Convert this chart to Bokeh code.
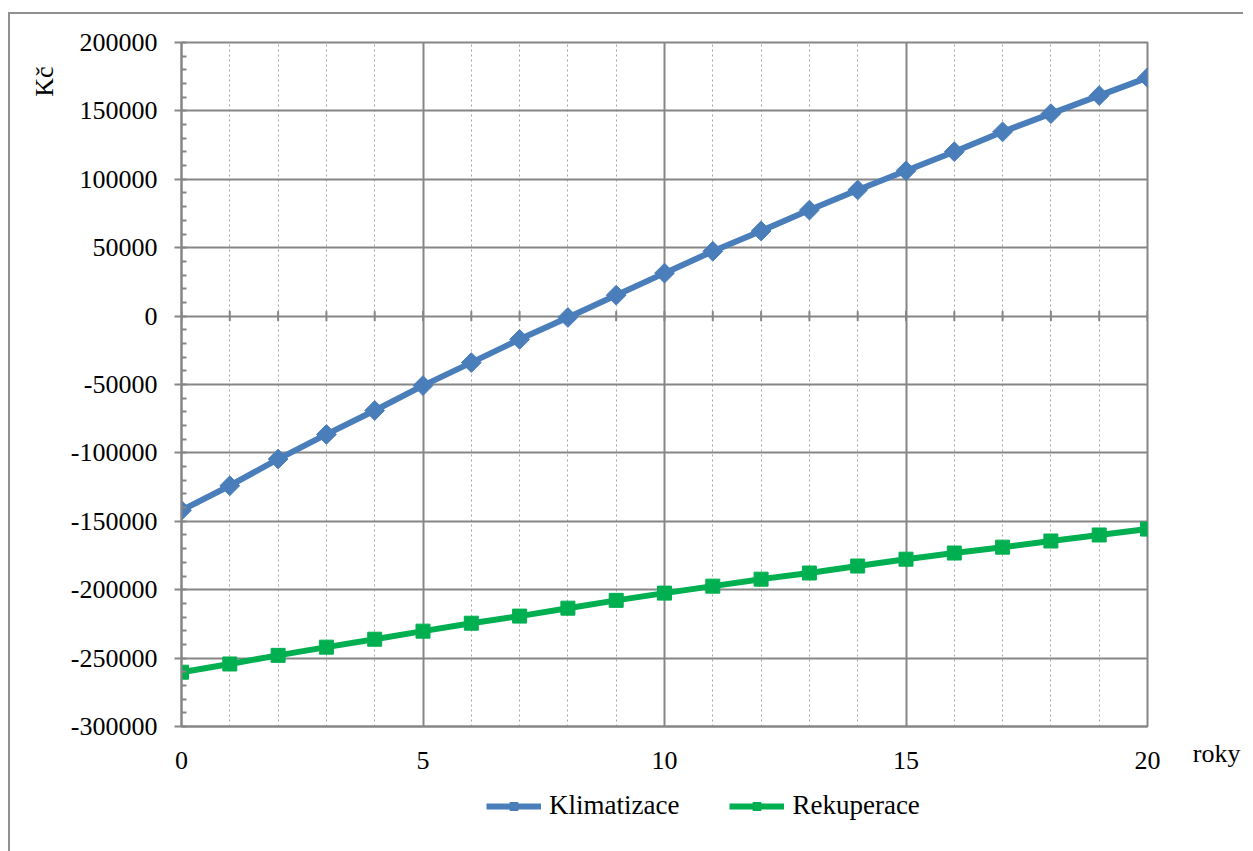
import math
from bokeh.plotting import figure
from bokeh.layouts import column
from bokeh.models import (Range1d, SingleIntervalTicker, FixedTicker, NumeralTickFormatter,
                          Legend, LegendItem, Title, ColumnDataSource)
from bokeh.embed import file_html
from bokeh.resources import INLINE

years = list(range(0, 21))
klimatizace = [-142000, -124000, -104500, -86500, -69000, -50800, -34000, -17000, -1000,
               15300, 31400, 47400, 62200, 77500, 92200, 106200, 120200, 134700, 148000,
               161200, 174300]
rekuperace = [-260300, -254300, -248000, -242000, -236200, -230300, -224500, -219300,
              -213500, -207800, -202500, -197400, -192300, -187800, -182700, -177700,
              -173200, -168900, -164400, -160000, -155700]
x_ticks = [0, 5, 10, 15, 20]
series_names = ["Klimatizace", "Rekuperace"]

FONT = "Liberation Serif"
FS = "26px"
GRID = "#868686"
EDGE = "2px solid #909090"
BLUE = "#4A7EBB"
GREEN = "#00B050"

src = ColumnDataSource(dict(x=years, k=klimatizace, r=rekuperace, z=[0] * len(years)))

# ---------------- main chart ----------------
p = figure(frame_width=964, frame_height=682, output_backend="svg", toolbar_location=None,
           x_range=Range1d(0, 20), y_range=Range1d(-300000, 200000))
p.min_border_left = 171
p.min_border_top = 28
p.min_border_right = 98
p.min_border_bottom = 62
p.styles = {"margin-left": "8px", "margin-top": "12px", "border-top": EDGE, "border-left": EDGE}
p.outline_line_color = GRID
p.outline_line_width = 2
p.background_fill_color = "white"
p.border_fill_color = "white"

p.xaxis.ticker = FixedTicker(ticks=x_ticks)
p.xaxis.major_tick_line_color = None
p.xaxis.minor_tick_line_color = None
p.xaxis.axis_line_color = GRID
p.xaxis.axis_line_width = 2
p.xaxis.major_label_text_font = FONT
p.xaxis.major_label_text_font_size = FS
p.xaxis.major_label_text_color = "black"
p.xaxis.major_label_standoff = 19

p.yaxis.ticker = SingleIntervalTicker(interval=50000, num_minor_ticks=5)
p.yaxis.formatter = NumeralTickFormatter(format="0")
p.yaxis.axis_line_color = GRID
p.yaxis.axis_line_width = 2
p.yaxis.major_tick_line_color = GRID
p.yaxis.major_tick_line_width = 2
p.yaxis.major_tick_out = 7
p.yaxis.major_tick_in = 0
p.yaxis.minor_tick_line_color = GRID
p.yaxis.minor_tick_line_width = 2
p.yaxis.minor_tick_in = 5
p.yaxis.minor_tick_out = 0
p.yaxis.major_label_text_font = FONT
p.yaxis.major_label_text_font_size = FS
p.yaxis.major_label_text_color = "black"
p.yaxis.major_label_standoff = 17

p.xgrid.ticker = SingleIntervalTicker(interval=5, num_minor_ticks=5)
p.xgrid.grid_line_color = GRID
p.xgrid.grid_line_width = 2
p.xgrid.minor_grid_line_color = "#a6a6a6"
p.xgrid.minor_grid_line_width = 1
p.xgrid.minor_grid_line_dash = "2 3"
p.ygrid.ticker = SingleIntervalTicker(interval=50000)
p.ygrid.grid_line_color = GRID
p.ygrid.grid_line_width = 2

# category-axis tick marks along the zero line
p.scatter("x", "z", source=src, marker="dash", angle=math.pi / 2, size=10,
          line_color=GRID, line_width=2)

p.line("x", "k", source=src, line_color=BLUE, line_width=6)
p.scatter("x", "k", source=src, marker="square", angle=math.pi / 4, size=14,
          fill_color=BLUE, line_color=BLUE)
p.line("x", "r", source=src, line_color=GREEN, line_width=6)
p.scatter("x", "r", source=src, marker="square", size=14,
          fill_color=GREEN, line_color=GREEN)

p.add_layout(Title(text="roky", align="right", vertical_align="top", offset=-93, standoff=-65,
                   text_font=FONT, text_font_size=FS, text_font_style="normal",
                   text_color="black"), "below")
p.add_layout(Title(text="Kč", align="right", offset=24, standoff=18,
                   text_font=FONT, text_font_size=FS, text_font_style="normal",
                   text_color="black"), "left")

# ---------------- legend strip ----------------
q = figure(width=1233, height=66, output_backend="svg", toolbar_location=None,
           x_range=Range1d(0, 1), y_range=Range1d(0, 1),
           x_axis_location=None, y_axis_location=None)
q.min_border_left = 171
q.min_border_right = 98
q.min_border_top = 0
q.min_border_bottom = 0
q.styles = {"margin-left": "8px", "border-left": EDGE}
q.grid.visible = False
q.outline_line_color = None
q.background_fill_alpha = 0
q.border_fill_alpha = 0

ql1 = q.line("x", "k", source=src, line_color=BLUE, line_width=6)
qp1 = q.scatter("x", "k", source=src, marker="square", angle=math.pi / 4, size=14,
                fill_color=BLUE, line_color=BLUE)
ql2 = q.line("x", "r", source=src, line_color=GREEN, line_width=6)
qp2 = q.scatter("x", "r", source=src, marker="square", size=14,
                fill_color=GREEN, line_color=GREEN)

legend = Legend(items=[LegendItem(label=series_names[0], renderers=[ql1, qp1]),
                       LegendItem(label=series_names[1], renderers=[ql2, qp2])],
                orientation="horizontal", location=(305, 31),
                label_text_font=FONT, label_text_font_size="27px", label_text_color="black",
                glyph_width=55, glyph_height=20, label_standoff=8, spacing=50,
                border_line_color=None, background_fill_alpha=0, margin=0, padding=4)
q.add_layout(legend, "center")

open("out.html", "w").write(file_html(column(p, q), INLINE))
